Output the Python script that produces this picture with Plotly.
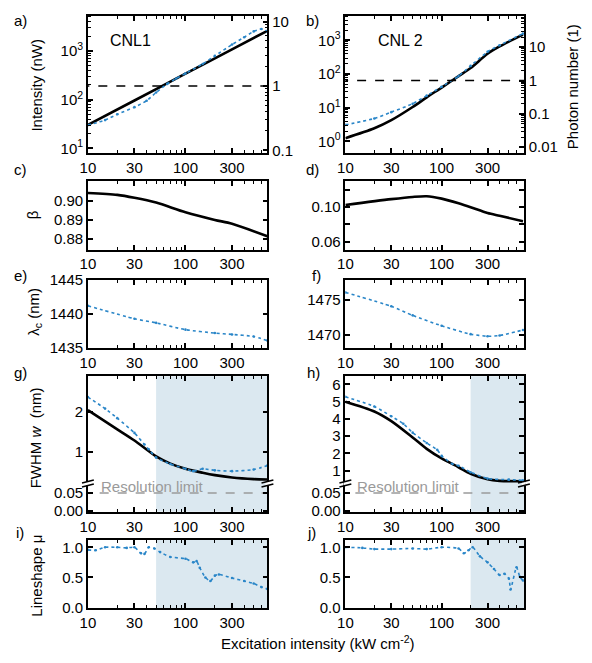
import numpy as np
import plotly.graph_objects as go

W, H = 592, 663
BLUE = "#2a86c8"
SHADE = "#dbe8f0"
GRAY = "#9a9a9a"
FAM = "Liberation Sans, Arial, sans-serif"
FONT = dict(family=FAM, size=15, color="black")

# ---------------- data ----------------
XT = [10, 30, 100, 300]
XMINOR = [20, 40, 50, 60, 70, 80, 90, 200, 400, 500, 600]

# a) CNL1 intensity (nW)
a_fit_x = [10, 30, 100, 300, 690]
a_fit_y = [30.2, 95.8, 340, 1079, 2588]
a_dat_x = [10, 15, 20, 30, 40, 50, 65, 80, 100, 150, 200, 300, 400, 500, 600, 690]
a_dat_y = [30, 38, 50, 70, 95, 140, 210, 270, 345, 540, 790, 1349, 1905, 2512, 2818, 2500]
# b) CNL2 intensity (nW)
b_fit_x = [10, 20, 30, 50, 70, 100, 150, 200, 300, 400, 700]
b_fit_y = [1.25, 2.45, 4.27, 10.5, 20.4, 39.8, 87, 151, 400, 660, 1479]
b_dat_x = [10, 20, 30, 50, 70, 100, 150, 200, 300, 400, 700]
b_dat_y = [3.1, 4.8, 7.4, 13.2, 22.9, 42, 87, 175, 460, 720, 1585]
PHOTON_ONE = 1.0
# c) beta CNL1
c_x = [10, 20, 30, 50, 100, 200, 300, 690]
c_y = [0.904, 0.903, 0.9015, 0.899, 0.894, 0.890, 0.888, 0.8815]
# d) beta CNL2
d_x = [10, 30, 50, 70, 100, 150, 200, 300, 400, 700]
d_y = [0.1026, 0.1094, 0.112, 0.1128, 0.110, 0.1045, 0.100, 0.0932, 0.090, 0.0838]
# e) lambda_c CNL1
e_x = [10, 30, 50, 100, 200, 300, 500, 690]
e_y = [1441.2, 1439.3, 1438.7, 1437.7, 1437.2, 1437.0, 1436.7, 1436.1]
# f) lambda_c CNL2
f_x = [10, 30, 50, 100, 200, 300, 400, 700]
f_y = [1476.1, 1474.1, 1472.8, 1471.3, 1470.1, 1469.8, 1469.9, 1470.7]
# g) FWHM CNL1
g_fit_x = [10, 15, 20, 30, 50, 70, 100, 150, 200, 300, 500, 690]
g_fit_y = [2.04, 1.76, 1.56, 1.28, 0.88, 0.70, 0.57, 0.47, 0.41, 0.35, 0.31, 0.30]
g_dat_x = [10, 15, 20, 30, 38, 42, 50, 70, 100, 120, 150, 200, 300, 500, 690]
g_dat_y = [2.37, 2.08, 1.84, 1.47, 1.18, 1.06, 0.85, 0.69, 0.57, 0.51, 0.57, 0.53, 0.51, 0.55, 0.65]
# h) FWHM CNL2
h_fit_x = [10, 20, 30, 50, 70, 100, 150, 200, 300, 400, 700]
h_fit_y = [5.0, 4.43, 3.87, 2.92, 2.26, 1.70, 1.19, 0.81, 0.49, 0.40, 0.38]
h_dat_x = [10, 20, 30, 40, 50, 70, 90, 100, 130, 150, 200, 300, 500, 700]
h_dat_y = [5.28, 4.72, 4.15, 3.72, 3.2, 2.6, 2.2, 1.85, 1.38, 1.28, 0.9, 0.53, 0.47, 0.43]
RES_LIMIT = 0.05
# i) lineshape CNL1
i_x = [10, 12, 15, 20, 25, 30, 35, 38, 42, 48, 55, 70, 100, 120, 130, 140, 160, 180, 200, 220, 300, 400, 500, 600, 690]
i_y = [0.957, 0.95, 1.0, 1.0, 0.99, 1.0, 0.9, 0.89, 1.0, 0.98, 0.92, 0.84, 0.81, 0.75, 0.77, 0.66, 0.5, 0.44, 0.53, 0.55, 0.49, 0.44, 0.40, 0.34, 0.31]
# j) lineshape CNL2
j_x = [10, 15, 20, 30, 50, 70, 100, 150, 170, 190, 210, 250, 300, 350, 400, 450, 500, 520, 600, 650, 700]
j_y = [1.0, 0.99, 0.97, 0.97, 0.98, 0.97, 1.0, 0.98, 0.9, 0.95, 1.0, 0.85, 0.75, 0.64, 0.54, 0.56, 0.48, 0.30, 0.67, 0.51, 0.45]
SHADE_L = 50    # kW cm-2, start of shaded region CNL1
SHADE_R = 200   # kW cm-2, start of shaded region CNL2

# ---------------- layout geometry ----------------
def fx(px):
    return px / W

def fy(py):
    return 1 - py / H

XL = [fx(81), fx(263)]
XR = [fx(342), fx(523)]
RL = [1, 2.84]
RR = [1, 2.855]
ROW_AB = [fy(148), fy(7)]
ROW_CD = [fy(247), fy(177)]
ROW_EF = [fy(348), fy(278)]
ROW_GU = [fy(487), fy(377)]
ROW_GL = [fy(516), fy(487)]
ROW_IJ = [fy(615), fy(545)]

LINE = dict(showline=True, linecolor="black", linewidth=1.5, ticks="inside", ticklen=5,
            tickwidth=1.5, tickcolor="black", showgrid=False, zeroline=False, tickfont=FONT)

def xax(domain, rng, anchor, labels=True, side="bottom", mirror="ticks"):
    d = dict(LINE)
    d.update(type="log", domain=domain, range=rng, anchor=anchor, side=side, mirror=mirror,
             tickmode="array", tickvals=XT, ticktext=[str(v) for v in XT],
             showticklabels=labels,
             minor=dict(tickmode="array", tickvals=XMINOR, ticks="inside", ticklen=3,
                        tickwidth=1, tickcolor="black", showgrid=False))
    return d

def yax(domain, rng, anchor, tickvals, ticktext, typ="linear", mirror="ticks", minor=None, **kw):
    d = dict(LINE)
    d.update(type=typ, domain=domain, range=rng, anchor=anchor, mirror=mirror,
             tickmode="array", tickvals=tickvals, ticktext=ticktext)
    if minor:
        d["minor"] = dict(tickmode="array", tickvals=minor, ticks="inside", ticklen=3,
                          tickwidth=1, tickcolor="black", showgrid=False)
    d.update(kw)
    return d

def decade_minor(lo, hi):
    out = []
    for e in range(lo, hi):
        out += [k * 10 ** e for k in range(2, 10)]
    return out

layout = dict(
    width=W, height=H, margin=dict(l=0, r=0, t=0, b=0), showlegend=False,
    paper_bgcolor="white", plot_bgcolor="white", font=FONT,
)
# a
layout["xaxis"] = xax(XL, RL, "y")
layout["yaxis"] = yax(ROW_AB, [0.9, 3.72], "x", [10, 100, 1000],
                      ["10<sup>1</sup>", "10<sup>2</sup>", "10<sup>3</sup>"], typ="log", mirror=True,
                      minor=decade_minor(1, 4))
layout["yaxis2"] = yax(ROW_AB, [-1.045, 1.09], "x", [0.1, 1, 10], ["0.1", "1", "10"], typ="log",
                       mirror=False, minor=decade_minor(-1, 1), overlaying="y", side="right")
# b
layout["xaxis2"] = xax(XR, RR, "y3")
layout["yaxis3"] = yax(ROW_AB, [-0.35, 3.73], "x2", [1, 10, 100, 1000],
                       ["10<sup>0</sup>", "10<sup>1</sup>", "10<sup>2</sup>", "10<sup>3</sup>"],
                       typ="log", mirror=True, minor=decade_minor(0, 4))
layout["yaxis4"] = yax(ROW_AB, [-2.18, 1.94], "x2", [0.01, 0.1, 1, 10], ["0.01", "0.1", "1", "10"],
                       typ="log", mirror=False, minor=decade_minor(-2, 2), overlaying="y3", side="right")
# c, d
layout["xaxis3"] = xax(XL, RL, "y5")
layout["yaxis5"] = yax(ROW_CD, [0.8745, 0.91], "x3", [0.88, 0.89, 0.90], ["0.88", "0.89", "0.90"])
layout["xaxis4"] = xax(XR, RR, "y6")
layout["yaxis6"] = yax(ROW_CD, [0.0506, 0.13], "x4", [0.06, 0.08, 0.10, 0.12], ["0.06", "", "0.10", ""])
# e, f
layout["xaxis5"] = xax(XL, RL, "y7")
layout["yaxis7"] = yax(ROW_EF, [1435, 1445], "x5", [1435, 1440, 1445], ["1435", "1440", "1445"])
layout["xaxis6"] = xax(XR, RR, "y8")
layout["yaxis8"] = yax(ROW_EF, [1468.1, 1477.9], "x6", [1470, 1475], ["1470", "1475"])
# g (broken axis)
layout["xaxis7"] = xax(XL, RL, "y9", labels=False, side="top", mirror=False)
layout["yaxis9"] = yax(ROW_GU, [0.2, 2.89], "x7", [1, 2], ["1", "2"])
layout["xaxis8"] = xax(XL, RL, "y10", mirror=False)
layout["yaxis10"] = yax(ROW_GL, [-0.003, 0.0765], "x8", [0, 0.05], ["0.00", "0.05"])
# h (broken axis)
layout["xaxis9"] = xax(XR, RR, "y11", labels=False, side="top", mirror=False)
layout["yaxis11"] = yax(ROW_GU, [0.245, 6.47], "x9", [1, 2, 3, 4, 5, 6], ["1", "2", "3", "4", "5", "6"])
layout["xaxis10"] = xax(XR, RR, "y12", mirror=False)
layout["yaxis12"] = yax(ROW_GL, [-0.003, 0.0765], "x10", [0, 0.05], ["0.00", "0.05"])
# i, j
layout["xaxis11"] = xax(XL, RL, "y13")
layout["yaxis13"] = yax(ROW_IJ, [-0.01, 1.12], "x11", [0, 0.5, 1.0], ["0.0", "0.5", "1.0"])
layout["xaxis12"] = xax(XR, RR, "y14")
layout["yaxis14"] = yax(ROW_IJ, [-0.01, 1.12], "x12", [0, 0.5, 1.0], ["0.0", "0.5", "1.0"])

fig = go.Figure(layout=layout)

def fit(x, y, xa, ya):
    fig.add_trace(go.Scatter(x=x, y=y, xaxis=xa, yaxis=ya, mode="lines",
                             line=dict(color="black", width=2.6, shape="spline", smoothing=0.8),
                             hoverinfo="skip"))

def dat(x, y, xa, ya, mode="lines+markers"):
    fig.add_trace(go.Scatter(x=x, y=y, xaxis=xa, yaxis=ya, mode=mode,
                             line=dict(color=BLUE, width=1.6, dash="dot", shape="spline", smoothing=0.6),
                             marker=dict(color=BLUE, size=2.6), hoverinfo="skip"))

XSPAN = [1, 10000]
# a
fig.add_trace(go.Scatter(x=XSPAN, y=[PHOTON_ONE] * 2, xaxis="x", yaxis="y2", mode="lines",
                         line=dict(color="black", width=1.5, dash="dash")))
fit(a_fit_x, a_fit_y, "x", "y")
dat(a_dat_x, a_dat_y, "x", "y")
# b
fig.add_trace(go.Scatter(x=XSPAN, y=[PHOTON_ONE] * 2, xaxis="x2", yaxis="y4", mode="lines",
                         line=dict(color="black", width=1.5, dash="dash")))
fit(b_fit_x, b_fit_y, "x2", "y3")
dat(b_dat_x, b_dat_y, "x2", "y3")
# c d
fit(c_x, c_y, "x3", "y5")
fit(d_x, d_y, "x4", "y6")
# e f
dat(e_x, e_y, "x5", "y7")
dat(f_x, f_y, "x6", "y8")
# g
fit(g_fit_x, g_fit_y, "x7", "y9")
dat(g_dat_x, g_dat_y, "x7", "y9")
fig.add_trace(go.Scatter(x=[13.2, 10000], y=[RES_LIMIT] * 2, xaxis="x8", yaxis="y10", mode="lines",
                         line=dict(color=GRAY, width=1.5, dash="dash")))
# h
fit(h_fit_x, h_fit_y, "x9", "y11")
dat(h_dat_x, h_dat_y, "x9", "y11")
fig.add_trace(go.Scatter(x=[12.7, 10000], y=[RES_LIMIT] * 2, xaxis="x10", yaxis="y12", mode="lines",
                         line=dict(color=GRAY, width=1.5, dash="dash")))
# i j
dat(i_x, i_y, "x11", "y13")
dat(j_x, j_y, "x12", "y14")

# shaded regions
def shade(xa, start, rng, y0, y1):
    f0 = (np.log10(start) - rng[0]) / (rng[1] - rng[0])
    fig.add_shape(type="rect", xref=f"{xa} domain", yref="paper", x0=f0, x1=1, y0=y0, y1=y1,
                  fillcolor=SHADE, line=dict(width=0), layer="below")

shade("x8", SHADE_L, RL, ROW_GL[0], ROW_GU[1])
shade("x10", SHADE_R, RR, ROW_GL[0], ROW_GU[1])
shade("x11", SHADE_L, RL, ROW_IJ[0], ROW_IJ[1])
shade("x12", SHADE_R, RR, ROW_IJ[0], ROW_IJ[1])

# axis-break marks
for bx in [81, 263, 342, 523]:
    fig.add_shape(type="rect", xref="paper", yref="paper", x0=fx(bx - 2), x1=fx(bx + 2),
                  y0=fy(489), y1=fy(485), fillcolor="white", line=dict(width=0))
    for off in [-2, 2]:
        fig.add_shape(type="line", xref="paper", yref="paper",
                      x0=fx(bx - 6), y0=fy(487 + off + 1.5), x1=fx(bx + 6), y1=fy(487 + off - 1.5),
                      line=dict(color="black", width=1.5))

def text(s, px, py, size=15, color="black", angle=0, xanchor="center"):
    fig.add_annotation(text=s, x=fx(px), y=fy(py), xref="paper", yref="paper", showarrow=False,
                       font=dict(family=FAM, size=size, color=color), textangle=angle,
                       xanchor=xanchor, yanchor="middle")

# panel labels
for s, px, py in [("a)", 13, 12), ("b)", 309, 12), ("c)", 13, 165), ("d)", 309, 165),
                  ("e)", 13, 273), ("f)", 313, 273), ("g)", 13, 373), ("h)", 310, 373),
                  ("i)", 12, 537), ("j)", 308, 537)]:
    text(s, px, py)

text("CNL1", 124, 32, size=16)
text("CNL 2", 398, 32, size=16)
text("Resolution limit", 92, 490, size=15, color=GRAY, xanchor="left")
text("Resolution limit", 352, 490, size=15, color=GRAY, xanchor="left")

# axis titles
text("Intensity (nW)", 28, 78, angle=-90)
text("Photon number (1)", 573, 80, angle=-90)
text("β", 25, 211, angle=-90)
text("λ<sub>c</sub> (nm)", 26, 311, angle=-90)
text("FWHM <i>w</i>  (nm)", 28, 440, angle=-90)
text("Lineshape μ", 28, 582, angle=-90)
text("Excitation intensity (kW cm<sup>-2</sup>)", 314, 650)

fig.write_html("out.html")
